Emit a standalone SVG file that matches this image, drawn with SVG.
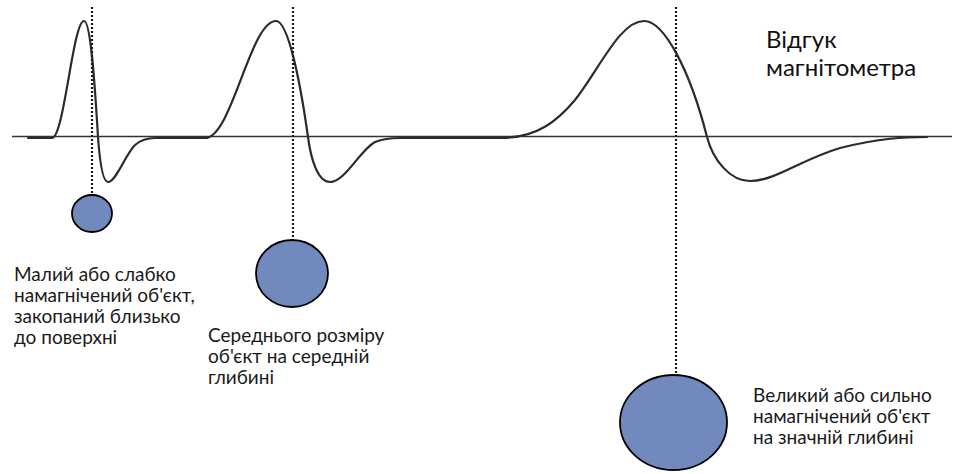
<svg xmlns="http://www.w3.org/2000/svg" width="955" height="474" viewBox="0 0 955 474">
  <style>
    .curve { fill: none; stroke: #2b2b2b; stroke-width: 2.2; stroke-linejoin: round; stroke-linecap: round; }
    .axis { fill: none; stroke: #333; stroke-width: 1.5; }
    .dots { fill: none; stroke: #1a1a1a; stroke-width: 2.2; stroke-dasharray: 2 2; }
    .obj { fill: #7189bd; stroke: #000; stroke-width: 1.8; }
    .lbl { font-family: Lato, "Liberation Sans", sans-serif; font-size: 19px; fill: #1a1a1a; }
    .title { font-family: Lato, "Liberation Sans", sans-serif; font-size: 24px; fill: #111; }
  </style>
  <rect width="955" height="474" fill="#fff"/>
  <g id="connectors">
    <line class="axis" x1="12" y1="136.5" x2="952" y2="136.5"/>
    <path class="curve" d="M28,138 L52,138 C64,138 73,21 84,21 C90,21 94,70 98,137 C100,165 103,182 108,182 C116,182 125,155 135,145 C142,139 148,138 155,138 L205,138 C232,138 250,21 276,21 C288,21 300,80 308,137 C311,160 318,182 330,182 C345,182 360,150 375,142 C385,138 392,138 400,138 L500,138 C538,138 558,120 575,100 C600,68 620,21 644,21 C664,21 690,70 707,137 C713,160 730,181 750,181 C775,181 800,160 840,148 C880,138 905,137 927,137"/>
    <line class="dots" x1="92" y1="7" x2="92" y2="194"/>
    <line class="dots" x1="293" y1="7" x2="293" y2="240"/>
    <line class="dots" x1="676" y1="7" x2="676" y2="375"/>
  </g>
  <g id="title">
    <text class="title" x="766" y="48">Відгук</text>
    <text class="title" x="766" y="76">магнітометра</text>
  </g>
  <g id="object-small">
    <ellipse class="obj" cx="92" cy="213.5" rx="20" ry="18.5"/>
    <text class="lbl" x="14" y="281">Малий або слабко</text>
    <text class="lbl" x="14" y="302">намагнічений об'єкт,</text>
    <text class="lbl" x="14" y="323">закопаний близько</text>
    <text class="lbl" x="14" y="344">до поверхні</text>
  </g>
  <g id="object-medium">
    <ellipse class="obj" cx="292" cy="273.5" rx="36" ry="33.5"/>
    <text class="lbl" x="208" y="342">Середнього розміру</text>
    <text class="lbl" x="208" y="363">об'єкт на середній</text>
    <text class="lbl" x="208" y="384">глибині</text>
  </g>
  <g id="object-large">
    <ellipse class="obj" cx="673.5" cy="422.5" rx="53.5" ry="47.5"/>
    <text class="lbl" x="753" y="402">Великий або сильно</text>
    <text class="lbl" x="753" y="423">намагнічений об'єкт</text>
    <text class="lbl" x="753" y="444">на значній глибині</text>
  </g>
</svg>
